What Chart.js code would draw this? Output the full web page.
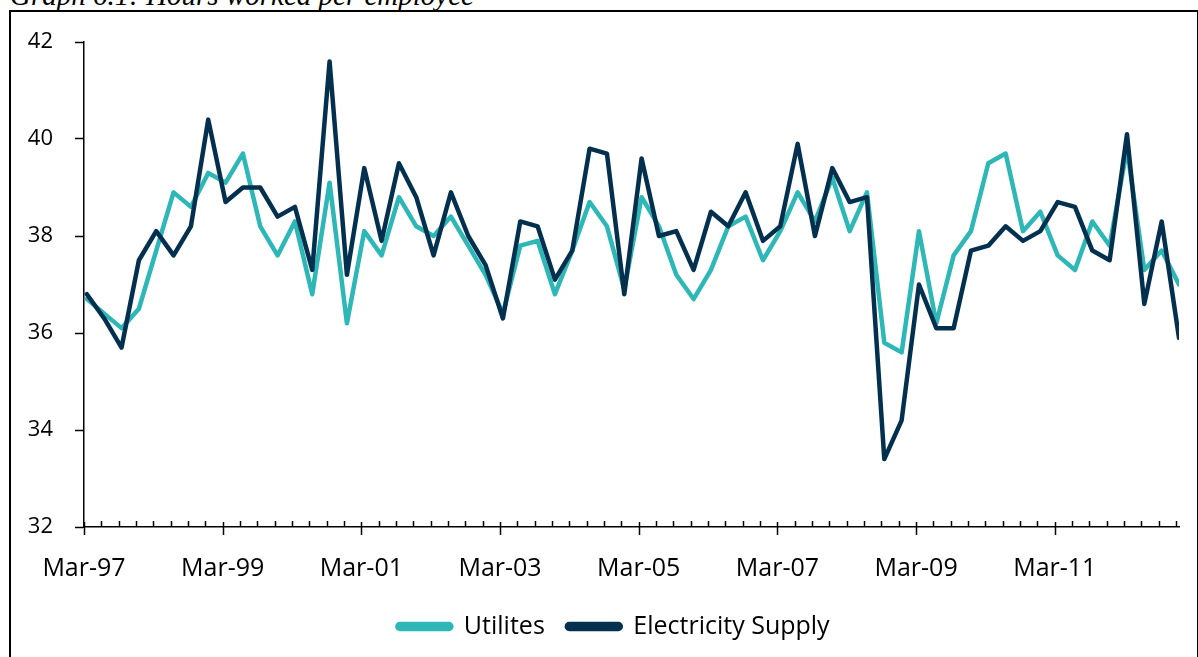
<!DOCTYPE html>
<html>
<head>
<meta charset="utf-8">
<script src="https://cdn.jsdelivr.net/npm/chart.js@4.4.1/dist/chart.umd.min.js"></script>
<style>
  html, body { margin: 0; padding: 0; background: #fff; }
  body { width: 1198px; height: 657px; position: relative; overflow: hidden; }
  .title {
    position: absolute; left: 10px; top: -19px;
    font: italic 29px "Liberation Serif", "Times New Roman", serif;
    line-height: 29px; white-space: nowrap; color: #000;
  }
  .frame {
    position: absolute; left: 9px; top: 10px; width: 1186px; height: 660px;
    border: 2px solid #000; border-bottom: none;
  }
  #wrap { position: absolute; left: 0; top: 0; width: 1198px; height: 657px; }
</style>
</head>
<body>
<div class="title">Graph 6.1: Hours worked per employee</div>
<div class="frame"></div>
<div id="wrap"><canvas id="hours"></canvas></div>
<script>
  // quarterly series, Mar-97 .. Dec-12
  const startYear = 1997;
  const quarterMonths = ['Mar', 'Jun', 'Sep', 'Dec'];
  const tickLabels = ['Mar-97', 'Mar-99', 'Mar-01', 'Mar-03', 'Mar-05', 'Mar-07', 'Mar-09', 'Mar-11'];

  const utilities = [
    36.7, 36.4, 36.1, 36.5, 37.7, 38.9, 38.6, 39.3,
    39.1, 39.7, 38.2, 37.6, 38.3, 36.8, 39.1, 36.2,
    38.1, 37.6, 38.8, 38.2, 38.0, 38.4, 37.8, 37.2,
    36.4, 37.8, 37.9, 36.8, 37.7, 38.7, 38.2, 36.9,
    38.8, 38.2, 37.2, 36.7, 37.3, 38.2, 38.4, 37.5,
    38.1, 38.9, 38.3, 39.2, 38.1, 38.9, 35.8, 35.6,
    38.1, 36.2, 37.6, 38.1, 39.5, 39.7, 38.1, 38.5,
    37.6, 37.3, 38.3, 37.8, 39.8, 37.3, 37.7, 37.0
  ];
  const electricity = [
    36.8, 36.3, 35.7, 37.5, 38.1, 37.6, 38.2, 40.4,
    38.7, 39.0, 39.0, 38.4, 38.6, 37.3, 41.6, 37.2,
    39.4, 37.9, 39.5, 38.8, 37.6, 38.9, 38.0, 37.4,
    36.3, 38.3, 38.2, 37.1, 37.7, 39.8, 39.7, 36.8,
    39.6, 38.0, 38.1, 37.3, 38.5, 38.2, 38.9, 37.9,
    38.2, 39.9, 38.0, 39.4, 38.7, 38.8, 33.4, 34.2,
    37.0, 36.1, 36.1, 37.7, 37.8, 38.2, 37.9, 38.1,
    38.7, 38.6, 37.7, 37.5, 40.1, 36.6, 38.3, 35.9
  ];

  const quarters = utilities.map(function (v, i) {
    var yy = String((startYear + Math.floor(i / 4)) % 100).padStart(2, '0');
    return quarterMonths[i % 4] + '-' + yy;
  });

  // x runs in months from the start of Mar-97; each value sits mid-month
  function toPoints(series) {
    return series.map(function (v, i) { return { x: i * 3 + 0.5, y: v, q: quarters[i] }; });
  }
  const lastX = (utilities.length - 1) * 3 + 0.5;

  // short inward tick marks along the x axis, longer ones where a label sits
  const innerTicks = {
    id: 'innerTicks',
    afterDatasetsDraw: function (chart) {
      var ctx = chart.ctx, xs = chart.scales.x, y0 = chart.chartArea.bottom;
      ctx.save();
      ctx.strokeStyle = '#000';
      ctx.lineWidth = 1.5;
      xs.ticks.forEach(function (t) {
        var px = Math.round(xs.getPixelForValue(t.value)) + 0.5;
        var major = t.value % 24 === 0;
        ctx.beginPath();
        ctx.moveTo(px, y0 - (major ? 5 : 6));
        ctx.lineTo(px, y0 + (major ? 8 : 0));
        ctx.stroke();
      });
      ctx.restore();
    }
  };

  // legend sits centred under the plot rather than under the whole canvas
  const legendShift = {
    id: 'legendShift',
    afterLayout: function (chart) {
      chart.legend.left += 11;
      chart.legend.right += 11;
    }
  };

  const chart = new Chart(document.getElementById('hours'), {
    type: 'line',
    data: {
      datasets: [{
        label: 'Utilites',
        data: toPoints(utilities),
        borderColor: '#2db7b6',
        backgroundColor: '#2db7b6',
        borderWidth: 4.5,
        order: 1
      }, {
        label: 'Electricity Supply',
        data: toPoints(electricity),
        borderColor: '#04304f',
        backgroundColor: '#04304f',
        borderWidth: 4.5,
        order: 0
      }]
    },
    options: {
      responsive: true,
      maintainAspectRatio: false,
      animation: false,
      events: [],
      elements: {
        point: { radius: 0 },
        line: { tension: 0, borderJoinStyle: 'round', borderCapStyle: 'round', fill: false }
      },
      layout: { padding: { left: 26, top: 42, right: 19, bottom: 8 } },
      scales: {
        x: {
          type: 'linear',
          min: 0,
          max: lastX,
          afterFit: function (s) { s.height = 65; },
          grid: { display: false },
          border: { display: true, color: '#000', width: 1.5 },
          ticks: {
            stepSize: 3,
            includeBounds: false,
            autoSkip: false,
            maxRotation: 0,
            padding: 19,
            color: '#000',
            font: { family: 'Open Sans', size: 25 },
            callback: function (v) { return v % 24 === 0 ? tickLabels[v / 24] : ''; }
          }
        },
        y: {
          min: 32,
          max: 42,
          afterFit: function (s) { s.width = 58; },
          grid: { drawOnChartArea: false, drawTicks: true, tickLength: 9, tickColor: '#000', tickWidth: 1.5 },
          border: { display: true, color: '#000', width: 1.5 },
          ticks: {
            stepSize: 2,
            padding: 22,
            color: '#000',
            font: { family: 'Open Sans', size: 22 }
          }
        }
      },
      plugins: {
        legend: {
          position: 'bottom',
          labels: {
            color: '#000',
            font: { family: 'Open Sans', size: 25 },
            boxWidth: 54,
            boxHeight: 5,
            useBorderRadius: true,
            borderRadius: 2.5,
            padding: 22,
            sort: function (a, b) { return a.datasetIndex - b.datasetIndex; }
          }
        },
        tooltip: { enabled: false }
      }
    },
    plugins: [innerTicks, legendShift]
  });
</script>
</body>
</html>
